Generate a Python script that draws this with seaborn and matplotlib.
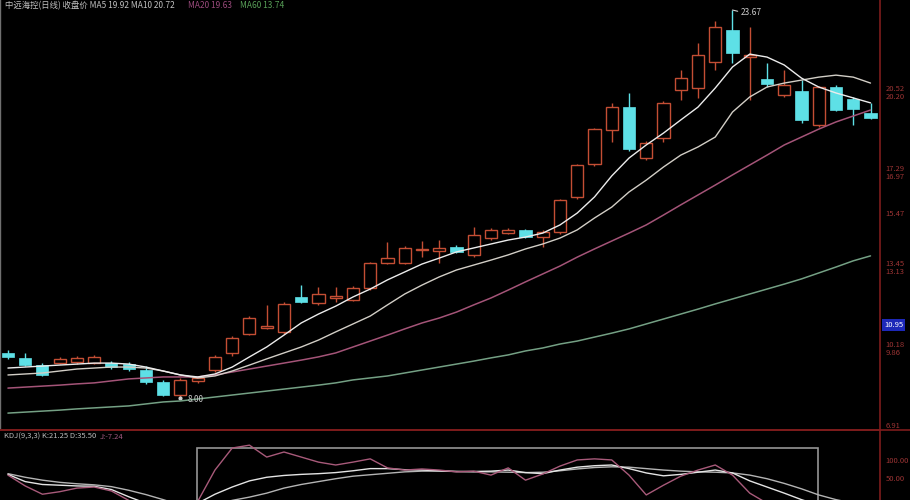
import matplotlib
matplotlib.use('Agg')
import matplotlib.pyplot as plt
import pandas as pd
import seaborn as sns
from matplotlib.patches import Rectangle
from matplotlib.lines import Line2D

# Daily candles
opens = [9.82, 9.62, 9.33, 9.41, 9.45, 9.41, 9.41, 9.37, 9.13, 8.65,
         8.12, 8.69, 9.13, 9.82, 10.58, 10.83, 10.67, 12.08, 11.84, 12.04,
         11.96, 12.44, 13.45, 13.45, 13.98, 13.94, 14.10, 13.78, 14.46, 14.66,
         14.79, 14.50, 14.70, 16.12, 17.45, 18.82, 19.75, 17.69, 18.50, 20.44,
         20.52, 21.57, 22.86, 21.77, 20.88, 20.24, 20.40, 19.03, 20.56, 20.08,
         19.51]
closes = [9.66, 9.33, 8.93, 9.58, 9.62, 9.66, 9.25, 9.17, 8.65, 8.12,
          8.73, 8.81, 9.66, 10.42, 11.23, 10.91, 11.80, 11.88, 12.20, 12.12,
          12.44, 13.45, 13.65, 14.06, 14.02, 14.06, 13.90, 14.58, 14.79, 14.79,
          14.50, 14.70, 16.00, 17.41, 18.87, 19.75, 18.06, 18.30, 19.92, 20.92,
          21.85, 22.98, 21.93, 21.85, 20.68, 20.64, 19.23, 20.56, 19.63, 19.67,
          19.31]
highs = [9.94, 9.82, 9.41, 9.66, 9.70, 9.74, 9.49, 9.45, 9.29, 8.73,
         8.81, 8.89, 9.74, 10.50, 11.31, 11.76, 11.88, 12.56, 12.48, 12.48,
         12.52, 13.49, 14.30, 14.14, 14.34, 14.38, 14.18, 14.91, 14.87, 14.87,
         14.83, 14.79, 16.04, 17.45, 18.91, 19.92, 20.32, 18.38, 20.00, 21.25,
         22.34, 23.23, 23.67, 22.98, 21.53, 21.25, 20.84, 20.60, 20.64, 20.16,
         19.92]
lows = [9.58, 9.29, 8.89, 9.37, 9.37, 9.37, 9.17, 9.09, 8.57, 8.08,
        8.00, 8.61, 9.05, 9.70, 10.54, 10.79, 10.58, 11.84, 11.76, 11.88,
        11.92, 12.36, 13.41, 13.41, 13.70, 13.45, 13.86, 13.70, 14.38, 14.62,
        14.46, 14.10, 14.62, 16.04, 17.37, 18.34, 17.98, 17.61, 18.34, 20.04,
        20.12, 21.25, 21.53, 20.04, 20.56, 20.16, 19.11, 18.95, 19.59, 19.03,
        19.27]

# Moving averages as drawn
ma5 = [9.21, 9.25, 9.29, 9.33, 9.37, 9.41, 9.41, 9.37, 9.25, 9.09,
       8.93, 8.85, 8.97, 9.25, 9.66, 10.06, 10.54, 11.03, 11.39, 11.71,
       12.08, 12.40, 12.77, 13.09, 13.41, 13.65, 13.90, 14.06, 14.22, 14.38,
       14.50, 14.66, 14.99, 15.47, 16.12, 16.97, 17.69, 18.22, 18.70, 19.23,
       19.75, 20.52, 21.37, 21.89, 21.77, 21.45, 20.92, 20.56, 20.32, 20.12,
       19.92]
ma10 = [8.93, 8.97, 9.01, 9.09, 9.17, 9.21, 9.25, 9.25, 9.21, 9.09,
        8.93, 8.81, 8.89, 9.09, 9.33, 9.58, 9.82, 10.06, 10.34, 10.67,
        10.99, 11.31, 11.76, 12.20, 12.56, 12.89, 13.17, 13.37, 13.57, 13.78,
        14.02, 14.22, 14.46, 14.79, 15.27, 15.71, 16.32, 16.80, 17.33, 17.81,
        18.14, 18.54, 19.55, 20.16, 20.56, 20.72, 20.84, 20.96, 21.04, 20.96,
        20.72]
ma20 = [8.40, 8.44, 8.48, 8.52, 8.57, 8.61, 8.69, 8.77, 8.81, 8.85,
        8.85, 8.85, 8.93, 9.05, 9.17, 9.29, 9.41, 9.53, 9.66, 9.82,
        10.06, 10.30, 10.54, 10.79, 11.03, 11.23, 11.47, 11.76, 12.04, 12.36,
        12.69, 13.01, 13.33, 13.69, 14.02, 14.34, 14.66, 14.99, 15.39, 15.80,
        16.20, 16.60, 17.01, 17.41, 17.81, 18.22, 18.54, 18.86, 19.15, 19.39,
        19.63]
ma60 = [7.39, 7.43, 7.47, 7.51, 7.56, 7.60, 7.64, 7.68, 7.76, 7.84,
        7.88, 7.96, 8.04, 8.12, 8.20, 8.28, 8.36, 8.44, 8.52, 8.61,
        8.73, 8.81, 8.89, 9.01, 9.13, 9.25, 9.37, 9.49, 9.62, 9.74,
        9.90, 10.02, 10.18, 10.30, 10.46, 10.62, 10.79, 10.99, 11.19, 11.39,
        11.59, 11.80, 12.00, 12.20, 12.40, 12.60, 12.81, 13.05, 13.29, 13.54,
        13.74]

# KDJ indicator
k_vals = [60, 40, 32, 30, 28, 27, 18, -2, -20, -30,
          -35, -20, 5, 25, 42, 52, 57, 60, 62, 65,
          70, 76, 76, 73, 72, 70, 68, 68, 69, 72,
          65, 62, 72, 80, 84, 86, 76, 64, 56, 60,
          66, 72, 64, 42, 25, 8, -10, -25, -35, -40,
          -45]
d_vals = [62, 52, 44, 38, 34, 31, 26, 16, 4, -10,
          -25, -40, -25, -12, -3, 8, 22, 32, 40, 48,
          55, 59, 63, 67, 69, 69, 68, 67, 67, 66,
          65, 66, 70, 75, 79, 81, 80, 76, 72, 69,
          67, 66, 64, 58, 48, 35, 20, 3, -10, -20,
          -30]
j_vals = [58, 28, 5, 12, 22, 25, 14, -12, -40, -50,
          -40, -15, 72, 133, 141, 108, 122, 108, 94, 86,
          94, 103, 78, 72, 75, 72, 67, 69, 58, 78,
          44, 61, 83, 100, 103, 100, 58, 3, 30, 55,
          72, 86, 58, 8, -20, -40, -50, -50, -50, -50,
          -50]

price_ticks = [20.52, 20.20, 17.29, 16.97, 15.47, 13.45, 13.13, 10.18, 9.86, 6.91]
kdj_ticks = [100, 50]

RED = '#c44e34'
CYAN = '#5ee0e6'
AXRED = '#7e1c1c'

sns.set_theme(style='dark', rc={'axes.facecolor': 'black', 'figure.facecolor': 'black'})
plt.rcParams['font.family'] = ['Noto Sans CJK SC', 'DejaVu Sans']

df = pd.DataFrame({'open': opens, 'close': closes, 'high': highs, 'low': lows,
                   'ma5': ma5, 'ma10': ma10, 'ma20': ma20, 'ma60': ma60,
                   'k': k_vals, 'd': d_vals, 'j': j_vals})
df['idx'] = range(len(df))

fig = plt.figure(figsize=(9.1, 5), dpi=100)
ax = fig.add_axes([0, 70 / 500, 880 / 910, 430 / 500])
ax2 = fig.add_axes([0, 0, 880 / 910, 70 / 500])

# Candles
up = df[df.close >= df.open]
down = df[df.close < df.open]
w = 0.7
ax.vlines(up.idx, up.close, up.high, color=RED, lw=1, zorder=2)
ax.vlines(up.idx, up.low, up.open, color=RED, lw=1, zorder=2)
ax.bar(up.idx, (up.close - up.open).clip(lower=0.05), bottom=up.open, width=w,
       facecolor='none', edgecolor=RED, linewidth=1, zorder=2)
ax.vlines(down.idx, down.low, down.high, color=CYAN, lw=1, zorder=2)
ax.bar(down.idx, down.close - down.open, bottom=down.open, width=w,
       color=CYAN, edgecolor=CYAN, linewidth=0.5, zorder=2)

# Moving averages
sns.lineplot(data=df, x='idx', y='ma60', ax=ax, color='#74a084', lw=1.1, zorder=3)
sns.lineplot(data=df, x='idx', y='ma20', ax=ax, color='#a45478', lw=1.1, zorder=3)
sns.lineplot(data=df, x='idx', y='ma10', ax=ax, color='#d2cec6', lw=1.0, zorder=3)
sns.lineplot(data=df, x='idx', y='ma5', ax=ax, color='#ececec', lw=1.0, zorder=3)

# High / low marks
hi = df.loc[df.high.idxmax()]
lo = df.loc[df.low.idxmin()]
ax.plot([hi.idx, hi.idx + 0.3], [hi.high, hi.high - 0.05], color='#d0d0d0', lw=0.8)
ax.text(hi.idx + 0.45, hi.high - 0.12, f'{hi.high:.2f}', color='#c8c8c8', fontsize=6,
        va='center')
ax.plot([lo.idx], [lo.low], marker='o', ms=2, color='#d0d0d0')
ax.text(lo.idx + 0.4, lo.low - 0.08, f'{lo.low:.2f}', color='#c8c8c8', fontsize=6,
        va='center')

ax.set_xlim(-0.46, 50.55)
ax.set_ylim(24.075 - 0.04039 * 430, 24.075)
ax.yaxis.tick_right()
ax.set_yticks(price_ticks)
ax.set_yticklabels([f'{v:.2f}' for v in price_ticks])
ax.tick_params(axis='y', colors='#9c3434', labelsize=5.5, length=0, pad=4)
ax.set_xticks([])
ax.set_xlabel('')
ax.set_ylabel('')
ax.grid(False)
for s in ['top', 'bottom']:
    ax.spines[s].set_visible(False)
ax.spines['right'].set_color(AXRED)
ax.spines['right'].set_linewidth(1.2)
ax.spines['left'].set_color('#707070')
ax.spines['left'].set_linewidth(1)

# Last price tag
ax.text(1.005, 10.95, '10.95', transform=ax.get_yaxis_transform(), color='white',
        fontsize=5.5, va='center', ha='left',
        bbox=dict(boxstyle='square,pad=0.25', fc='#1d28b8', ec='none'))

# Legend row
fig.text(5 / 910, 1 - 6 / 500, '中远海控(日线) 收盘价 MA5 19.92 MA10 20.72', color='#c0c0c0',
         fontsize=6, va='center')
fig.text(188 / 910, 1 - 6 / 500, 'MA20 19.63', color='#9a4a7c', fontsize=6, va='center')
fig.text(240 / 910, 1 - 6 / 500, 'MA60 13.74', color='#58a058', fontsize=6, va='center')

# KDJ panel
sns.lineplot(data=df, x='idx', y='d', ax=ax2, color='#b4b4b4', lw=1.0)
sns.lineplot(data=df, x='idx', y='k', ax=ax2, color='#e4e4e4', lw=1.0)
sns.lineplot(data=df, x='idx', y='j', ax=ax2, color='#a85a7a', lw=1.0)
ax2.add_patch(Rectangle((10.96, -40), 36.0, 173, fill=False, ec='#959595', lw=1.2))
ax2.set_xlim(-0.46, 50.55)
ax2.set_ylim(-11, 183)
ax2.yaxis.tick_right()
ax2.set_yticks(kdj_ticks)
ax2.set_yticklabels([f'{v:.2f}' for v in kdj_ticks])
ax2.tick_params(axis='y', colors='#9c3434', labelsize=5.5, length=0, pad=4)
ax2.set_xticks([])
ax2.set_xlabel('')
ax2.set_ylabel('')
ax2.grid(False)
for s in ['left', 'bottom']:
    ax2.spines[s].set_visible(False)
ax2.spines['top'].set_color(AXRED)
ax2.spines['right'].set_color(AXRED)
ax2.spines['right'].set_linewidth(1.2)
ax2.text(0.004, 0.9, 'KDJ(9,3,3) K:21.25 D:35.50', transform=ax2.transAxes,
         color='#bcbcbc', fontsize=5.5, va='center')
ax2.text(0.113, 0.9, 'J:-7.24', transform=ax2.transAxes, color='#a05a80',
         fontsize=5.5, va='center')

fig.add_artist(Line2D([0, 1], [70 / 500, 70 / 500], color=AXRED, lw=1.2))

fig.savefig('out.png', dpi=100, facecolor='black')
